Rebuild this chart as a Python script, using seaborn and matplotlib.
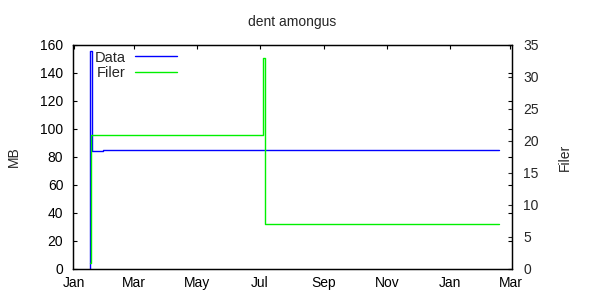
import matplotlib
matplotlib.use("Agg")
import matplotlib.pyplot as plt
import matplotlib.dates as mdates
import seaborn as sns
import pandas as pd

# ---- data ----
data_dates = ["2013-01-17 00:00", "2013-01-17 06:00", "2013-01-19 06:00", "2013-01-30 00:00", "2014-02-18 00:00"]
data_mb = [0, 156, 84, 85, 85]

filer_dates = ["2013-01-17 00:00", "2013-01-17 12:00", "2013-01-18 00:00", "2013-07-04 00:00", "2013-07-06 00:00", "2014-02-18 00:00"]
filer_count = [1, 7, 21, 33, 7, 7]

title = "dent amongus"
left_label = "MB"
right_label = "Filer"
series_names = ["Data", "Filer"]

sns.set_style("white")
plt.rcParams["font.family"] = ["Liberation Sans", "DejaVu Sans"]
plt.rcParams["font.size"] = 10

df_data = pd.DataFrame({"date": pd.to_datetime(data_dates), "value": data_mb})
df_filer = pd.DataFrame({"date": pd.to_datetime(filer_dates), "value": filer_count})

fig = plt.figure(figsize=(6, 3), dpi=100)
ax = fig.add_axes([73 / 600, 1 - 269 / 300, (512 - 73) / 600, (269 - 45) / 300])
ax2 = ax.twinx()

sns.lineplot(data=df_data, x="date", y="value", ax=ax, color="#0000ff",
             drawstyle="steps-post", linewidth=1.0, label=series_names[0], legend=False)
sns.lineplot(data=df_filer, x="date", y="value", ax=ax2, color="#00f000",
             drawstyle="steps-post", linewidth=1.0, label=series_names[1], legend=False)

ax.set_xlim(pd.Timestamp("2012-12-31 12:00"), pd.Timestamp("2014-03-02 12:00"))
ax.set_ylim(0, 160)
ax2.set_ylim(0, 35)
ax.set_yticks(range(0, 161, 20))
ax2.set_yticks(range(0, 36, 5))

ax.xaxis.set_major_locator(mdates.MonthLocator(bymonth=[1, 3, 5, 7, 9, 11]))
ax.xaxis.set_major_formatter(mdates.DateFormatter("%b"))

ax.tick_params(axis="both", direction="in", length=3, width=0.8, colors="black", labelsize=10)
ax.tick_params(axis="x", top=True, pad=5)
ax.tick_params(axis="y", pad=7, right=True, labelright=False)
ax2.tick_params(axis="y", direction="in", length=3, width=0.8, pad=8, labelsize=10)

for a in (ax, ax2):
    for s in a.spines.values():
        s.set_color("black")
        s.set_linewidth(0.9)
    a.grid(False)

ax.set_xlabel("")
ax.set_ylabel(left_label, fontsize=10, labelpad=14)
ax2.set_ylabel(right_label, fontsize=10, labelpad=14, rotation=90)
ax.set_title(title, fontsize=10, pad=14)

h1, l1 = ax.get_legend_handles_labels()
h2, l2 = ax2.get_legend_handles_labels()
leg = ax2.legend(h1 + h2, l1 + l2, loc="upper left", bbox_to_anchor=(0.05, 0.975),
                 frameon=False, markerfirst=False, borderpad=0, borderaxespad=0,
                 labelspacing=0.12, handlelength=2.85, handletextpad=0.65, fontsize=10.5)

fig.savefig("out.png", dpi=100)
